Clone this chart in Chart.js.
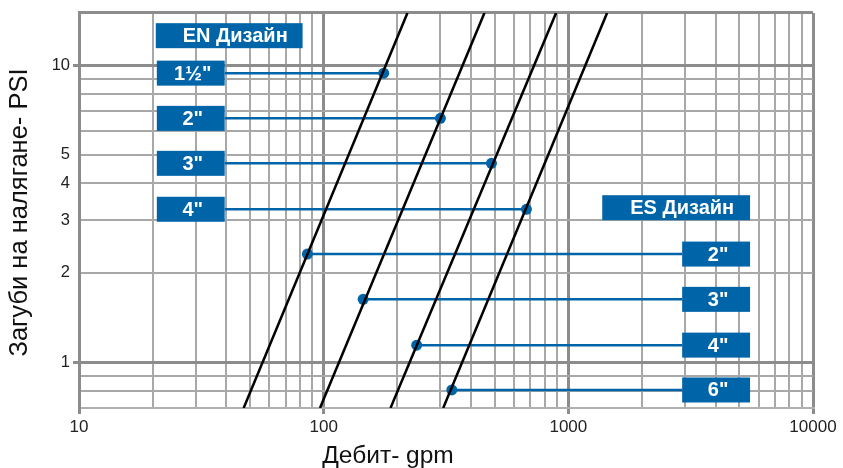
<!DOCTYPE html>
<html>
<head>
<meta charset="utf-8">
<script src="https://cdn.jsdelivr.net/npm/chart.js@4.4.1/dist/chart.umd.min.js"></script>
<style>
  html, body { margin: 0; padding: 0; background: #fff; }
  #wrap { width: 843px; height: 468px; position: relative; }
</style>
</head>
<body>
<div id="wrap"><canvas id="chart"></canvas></div>
<script>
// grid / tick values
const xTicks = [10, 20, 30, 40, 50, 60, 70, 80, 90,
  100, 200, 300, 400, 500, 600, 700, 800, 900,
  1000, 2000, 3000, 4000, 5000, 6000, 7000, 8000, 9000, 10000];
const yTicks = [0.7, 0.8, 0.9, 1, 2, 3, 4, 5, 6, 7, 8, 9, 10, 15];
const xLabels = [10, 100, 1000, 10000];
const yLabels = [1, 2, 3, 4, 5, 10];

// black pressure-drop curves, flow at the bottom and top of the chart
const curveLoss = [0.7, 15];
const curveLowFlow = [47.1, 96.6, 187.6, 308];
const curveHighFlow = [220, 454, 891, 1440];

// EN design sizes
const enSizes = ["1½\"", "2\"", "3\"", "4\""];
const enFlow = [176, 300, 485, 674];
const enLoss = [9.4, 6.62, 4.67, 3.27];

// ES design sizes
const esSizes = ["2\"", "3\"", "4\"", "6\""];
const esFlow = [85.8, 145, 240, 334];
const esLoss = [2.31, 1.626, 1.14, 0.805];

const BLUE = "#0064a8";
const FONT = "'Liberation Sans', Arial, sans-serif";

// where the label boxes sit (in axis units)
const enBox = { x0: 20.8, x1: 39.4 };
const esBox = { x0: 2919, x1: 5530 };
const enHead = { x0: 20.6, x1: 82, y: 12.57, text: "EN Дизайн" };
const esHead = { x0: 1376, x1: 5530, y: 3.31, text: "ES Дизайн" };

const isMajor = v => Math.abs(Math.log10(v) - Math.round(Math.log10(v))) < 1e-9;

const datasets = [];
curveLowFlow.forEach((lo, i) => {
  datasets.push({
    data: [{ x: lo, y: curveLoss[0] }, { x: curveHighFlow[i], y: curveLoss[1] }],
    borderColor: "#000",
    borderWidth: 2.5,
    pointRadius: 0
  });
});
enSizes.forEach((s, i) => {
  datasets.push({
    data: [{ x: enBox.x1, y: enLoss[i] }, { x: enFlow[i], y: enLoss[i] }],
    borderColor: BLUE,
    backgroundColor: BLUE,
    borderWidth: 2.5,
    pointRadius: [0, 5.5],
    pointBorderWidth: 0
  });
});
esSizes.forEach((s, i) => {
  datasets.push({
    data: [{ x: esFlow[i], y: esLoss[i] }, { x: esBox.x0, y: esLoss[i] }],
    borderColor: BLUE,
    backgroundColor: BLUE,
    borderWidth: 2.5,
    pointRadius: [5.5, 0],
    pointBorderWidth: 0
  });
});

function drawBox(ctx, xs, yPix, x0, x1, text, dx) {
  const left = xs.getPixelForValue(x0);
  const right = xs.getPixelForValue(x1);
  ctx.fillStyle = BLUE;
  ctx.fillRect(left, yPix - 12.5, right - left, 25);
  ctx.fillStyle = "#fff";
  ctx.font = "bold 20px " + FONT;
  ctx.textAlign = "center";
  ctx.textBaseline = "middle";
  ctx.fillText(text, (left + right) / 2 + dx, yPix + 1);
}

const boxPlugin = {
  id: "boxes",
  afterDatasetsDraw(chart) {
    const ctx = chart.ctx;
    const xs = chart.scales.x, ys = chart.scales.y;
    ctx.save();
    drawBox(ctx, xs, ys.getPixelForValue(enHead.y), enHead.x0, enHead.x1, enHead.text, 6);
    drawBox(ctx, xs, ys.getPixelForValue(esHead.y), esHead.x0, esHead.x1, esHead.text, 6);
    enSizes.forEach((s, i) => drawBox(ctx, xs, ys.getPixelForValue(enLoss[i]), enBox.x0, enBox.x1, s, 2));
    esSizes.forEach((s, i) => drawBox(ctx, xs, ys.getPixelForValue(esLoss[i]), esBox.x0, esBox.x1, s, 2));

    // axis titles
    ctx.fillStyle = "#111";
    ctx.textAlign = "center";
    ctx.textBaseline = "alphabetic";
    ctx.font = "24.5px " + FONT;
    ctx.fillText("Дебит- gpm", 388, 463);
    ctx.font = "25.5px " + FONT;
    ctx.translate(27, 212.5);
    ctx.rotate(-Math.PI / 2);
    ctx.fillText("Загуби на налягане- PSI", 0, 0);
    ctx.restore();
  }
};

const gridColor = c => isMajor(c.tick.value) || c.tick.value === 15 ? "#8c8c8c" : "#a8a8a8";
const gridWidth = c => isMajor(c.tick.value) || c.tick.value === 15 ? 3 : 2;

new Chart(document.getElementById("chart"), {
  type: "scatter",
  data: { datasets },
  options: {
    responsive: true,
    maintainAspectRatio: false,
    animation: false,
    showLine: true,
    layout: { padding: { left: 0, top: 12, right: 30, bottom: 0 } },
    plugins: { legend: { display: false }, tooltip: { enabled: false } },
    scales: {
      x: {
        type: "logarithmic",
        min: 10,
        max: 10000,
        afterBuildTicks: s => { s.ticks = xTicks.map(v => ({ value: v })); },
        afterFit: s => { s.height = 60; },
        grid: {
          color: gridColor,
          lineWidth: gridWidth,
          tickLength: 6,
          tickColor: c => isMajor(c.tick.value) ? "#8c8c8c" : "rgba(0,0,0,0)",
          tickWidth: 3
        },
        border: { color: "#b0b0b0", width: 2 },
        ticks: {
          autoSkip: false,
          maxRotation: 0,
          padding: 3,
          color: "#222",
          font: { family: FONT, size: 17 },
          callback: v => xLabels.includes(v) ? String(v) : ""
        }
      },
      y: {
        type: "logarithmic",
        min: 0.7,
        max: 15,
        afterBuildTicks: s => { s.ticks = yTicks.map(v => ({ value: v })); },
        afterFit: s => { s.width = 79; },
        grid: {
          color: gridColor,
          lineWidth: gridWidth,
          tickLength: 6,
          tickColor: c => isMajor(c.tick.value) ? "#8c8c8c" : "rgba(0,0,0,0)",
          tickWidth: 3
        },
        border: { color: "#8c8c8c", width: 3 },
        ticks: {
          autoSkip: false,
          padding: 3,
          color: "#222",
          font: { family: FONT, size: 16.5 },
          callback: v => yLabels.includes(v) ? String(v) : ""
        }
      }
    }
  },
  plugins: [boxPlugin]
});
</script>
</body>
</html>
